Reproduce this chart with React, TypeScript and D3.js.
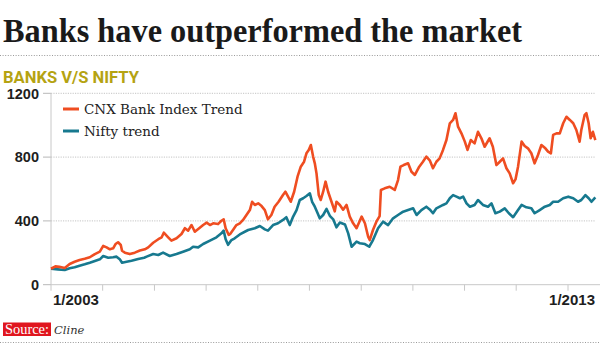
import React from "react";
import * as d3 from "d3";

// Values (index, Jan 2003 = 100)
const bankSeries: [string, number][] = [
  ["2003-01-01", 100], ["2003-02-01", 115], ["2003-03-01", 112], ["2003-04-08", 105],
  ["2003-05-13", 130], ["2003-06-17", 144], ["2003-07-22", 155], ["2003-08-27", 163],
  ["2003-10-02", 172], ["2003-11-07", 192], ["2003-12-12", 207], ["2004-01-05", 243],
  ["2004-01-29", 234], ["2004-02-21", 222], ["2004-03-15", 228], ["2004-04-01", 255],
  ["2004-04-19", 266], ["2004-05-08", 249], ["2004-05-17", 213], ["2004-06-06", 201],
  ["2004-07-11", 192], ["2004-08-15", 201], ["2004-09-20", 214], ["2004-10-25", 222],
  ["2004-11-18", 234], ["2004-12-23", 263], ["2005-01-28", 285], ["2005-02-21", 297],
  ["2005-03-08", 326], ["2005-04-08", 297], ["2005-05-01", 276], ["2005-06-06", 291],
  ["2005-07-11", 318], ["2005-08-04", 354], ["2005-08-27", 339], ["2005-09-20", 374],
  ["2005-10-13", 332], ["2005-11-13", 354], ["2005-12-11", 374], ["2006-01-05", 389],
  ["2006-01-28", 374], ["2006-02-20", 385], ["2006-03-26", 380], ["2006-04-19", 401],
  ["2006-05-05", 410], ["2006-05-19", 354], ["2006-06-10", 312], ["2006-06-20", 318],
  ["2006-07-10", 343], ["2006-08-03", 374], ["2006-08-27", 385], ["2006-09-19", 406],
  ["2006-10-13", 437], ["2006-11-06", 468], ["2006-11-22", 520], ["2006-12-11", 500],
  ["2007-01-04", 510], ["2007-01-28", 493], ["2007-02-20", 468], ["2007-03-14", 410],
  ["2007-04-07", 437], ["2007-04-30", 489], ["2007-05-28", 520], ["2007-06-28", 562],
  ["2007-07-15", 583], ["2007-08-03", 552], ["2007-08-22", 520], ["2007-09-15", 583],
  ["2007-10-09", 677], ["2007-11-01", 740], ["2007-11-24", 771], ["2007-12-11", 824],
  ["2007-12-27", 845], ["2008-01-11", 876], ["2008-01-27", 803], ["2008-02-08", 761],
  ["2008-02-20", 698], ["2008-03-07", 562], ["2008-03-21", 531], ["2008-04-07", 583],
  ["2008-04-24", 646], ["2008-05-12", 583], ["2008-06-05", 520], ["2008-06-28", 460],
  ["2008-07-10", 520], ["2008-08-03", 500], ["2008-08-26", 470], ["2008-09-19", 500],
  ["2008-10-12", 427], ["2008-11-05", 385], ["2008-11-29", 354], ["2009-01-04", 427],
  ["2009-01-27", 385], ["2009-02-19", 301], ["2009-03-02", 280], ["2009-03-25", 343],
  ["2009-04-18", 395], ["2009-05-11", 430], ["2009-05-20", 594], ["2009-06-16", 604],
  ["2009-07-21", 614], ["2009-08-26", 594], ["2009-09-18", 656], ["2009-10-05", 740],
  ["2009-10-28", 750], ["2009-11-28", 761], ["2009-12-22", 708], ["2010-01-15", 688],
  ["2010-02-15", 740], ["2010-03-13", 771], ["2010-04-06", 803], ["2010-04-30", 780],
  ["2010-05-23", 730], ["2010-06-16", 771], ["2010-07-09", 792], ["2010-08-02", 845],
  ["2010-08-26", 907], ["2010-09-19", 1012], ["2010-10-12", 1033], ["2010-10-29", 1075],
  ["2010-11-16", 991], ["2010-12-10", 949], ["2011-01-03", 897], ["2011-01-22", 845],
  ["2011-02-14", 907], ["2011-03-13", 886], ["2011-04-06", 959], ["2011-04-30", 918],
  ["2011-05-23", 865], ["2011-06-27", 918], ["2011-07-20", 865], ["2011-08-14", 750],
  ["2011-09-07", 771], ["2011-09-30", 792], ["2011-10-24", 730], ["2011-11-16", 698],
  ["2011-12-10", 636], ["2011-12-27", 660], ["2012-01-14", 740], ["2012-02-08", 897],
  ["2012-03-01", 870], ["2012-03-24", 855], ["2012-04-17", 824], ["2012-05-10", 761],
  ["2012-06-03", 813], ["2012-06-27", 876], ["2012-07-25", 855], ["2012-08-13", 834],
  ["2012-09-02", 824], ["2012-09-18", 939], ["2012-10-12", 949], ["2012-11-04", 949],
  ["2012-11-28", 1012], ["2012-12-21", 1053], ["2013-01-14", 1033], ["2013-02-07", 1012],
  ["2013-03-01", 970], ["2013-03-24", 897], ["2013-04-05", 970], ["2013-04-29", 1065],
  ["2013-05-11", 1075], ["2013-05-27", 1012], ["2013-06-10", 918], ["2013-06-26", 959],
  ["2013-07-13", 907],
];

const niftySeries: [string, number][] = [
  ["2003-01-01", 100], ["2003-02-19", 96], ["2003-04-08", 92], ["2003-05-13", 103],
  ["2003-06-17", 109], ["2003-07-22", 119], ["2003-08-27", 128], ["2003-10-02", 138],
  ["2003-11-07", 149], ["2003-12-12", 159], ["2004-01-05", 180], ["2004-02-09", 169],
  ["2004-03-15", 172], ["2004-04-08", 176], ["2004-05-01", 159], ["2004-05-17", 138],
  ["2004-06-18", 144], ["2004-07-23", 150], ["2004-09-08", 161], ["2004-10-20", 169],
  ["2004-11-07", 176], ["2004-12-23", 192], ["2005-01-28", 186], ["2005-03-03", 201],
  ["2005-04-19", 180], ["2005-06-06", 192], ["2005-07-22", 207], ["2005-09-08", 222],
  ["2005-10-01", 238], ["2005-11-06", 234], ["2005-12-11", 255], ["2006-01-28", 276],
  ["2006-03-15", 297], ["2006-04-19", 322], ["2006-05-05", 339], ["2006-05-19", 285],
  ["2006-06-05", 250], ["2006-06-29", 280], ["2006-07-22", 291], ["2006-08-27", 315],
  ["2006-10-25", 343], ["2006-12-11", 354], ["2007-01-16", 368], ["2007-02-20", 347],
  ["2007-03-14", 339], ["2007-04-19", 374], ["2007-05-24", 385], ["2007-06-28", 406],
  ["2007-07-22", 423], ["2007-08-15", 374], ["2007-09-08", 427], ["2007-10-02", 468],
  ["2007-10-25", 531], ["2007-11-18", 542], ["2007-12-11", 556], ["2008-01-04", 573],
  ["2008-01-20", 520], ["2008-02-08", 489], ["2008-02-28", 448], ["2008-03-14", 416],
  ["2008-04-07", 437], ["2008-05-01", 475], ["2008-05-24", 432], ["2008-06-17", 410],
  ["2008-07-10", 360], ["2008-08-03", 390], ["2008-09-08", 378], ["2008-10-01", 322],
  ["2008-10-25", 238], ["2008-11-29", 270], ["2008-12-22", 260], ["2009-01-27", 255],
  ["2009-02-27", 238], ["2009-03-25", 280], ["2009-04-30", 354], ["2009-06-04", 395],
  ["2009-07-10", 374], ["2009-08-14", 416], ["2009-09-18", 437], ["2009-10-24", 458],
  ["2009-11-28", 468], ["2010-01-03", 479], ["2010-01-27", 437], ["2010-03-02", 468],
  ["2010-04-06", 489], ["2010-04-30", 472], ["2010-05-23", 448], ["2010-06-16", 479],
  ["2010-08-02", 500], ["2010-08-26", 510], ["2010-09-19", 542], ["2010-10-12", 562],
  ["2010-11-05", 552], ["2010-11-29", 542], ["2010-12-22", 552], ["2011-01-15", 510],
  ["2011-02-08", 489], ["2011-03-13", 500], ["2011-04-06", 531], ["2011-05-11", 500],
  ["2011-06-16", 489], ["2011-07-10", 510], ["2011-08-07", 448], ["2011-09-07", 458],
  ["2011-10-12", 479], ["2011-11-10", 448], ["2011-12-10", 423], ["2012-01-14", 468],
  ["2012-02-08", 500], ["2012-03-13", 485], ["2012-04-17", 479], ["2012-05-10", 448],
  ["2012-06-15", 468], ["2012-07-21", 489], ["2012-08-25", 500], ["2012-09-18", 520],
  ["2012-10-23", 520], ["2012-11-28", 542], ["2013-01-03", 552], ["2013-02-07", 542],
  ["2013-03-13", 520], ["2013-04-05", 531], ["2013-05-04", 562], ["2013-05-27", 542],
  ["2013-06-16", 520], ["2013-07-13", 548],
];

const yTicks = [0, 400, 800, 1200];
const xTickYears = d3.range(2003, 2014);
const xLabels: [number, string][] = [[2003, "1/2003"], [2013, "1/2013"]];
const legendItems = ["CNX Bank Index Trend", "Nifty trend"];

const BANK_COLOR = "#ef4d21";
const NIFTY_COLOR = "#17798f";
const W = 600;
const H = 351;

const parse = d3.timeParse("%Y-%m-%d");

export default function App() {
  const x = d3.scaleTime()
    .domain([new Date(2003, 0, 1), new Date(2013, 0, 1)])
    .range([51, 568]);
  const y = d3.scaleLinear().domain([0, 1200]).range([284.7, 93.3]);

  const line = d3.line<[string, number]>()
    .x(d => x(parse(d[0]) as Date))
    .y(d => y(d[1]));

  const sansBold = "'Liberation Sans', Arial, sans-serif";
  const serif = "'DejaVu Serif', Georgia, serif";

  return (
    <svg width={W} height={H} style={{ position: "absolute", left: 0, top: 0, background: "#fff" }}>
      {/* header */}
      <text x={3} y={42} fontFamily="'Liberation Serif', 'Times New Roman', serif" fontWeight="bold"
        fontSize={34} fill="#1a1a1a" textLength={519} lengthAdjust="spacingAndGlyphs">
        Banks have outperformed the market
      </text>
      <line x1={0} x2={W} y1={55.5} y2={55.5} stroke="#9a9a9a" strokeDasharray="1 1.6" />
      <text x={3} y={82.5} fontFamily="Roboto, sans-serif" fontWeight="bold" fontSize={16.5}
        fill="#b5a312" textLength={136} lengthAdjust="spacingAndGlyphs">
        BANKS V/S NIFTY
      </text>

      {/* grid + y axis */}
      {yTicks.map(t => (
        <g key={t}>
          {t > 0 && (
            <line x1={51} x2={595} y1={y(t)} y2={y(t)} stroke="#c4c4c4" strokeDasharray="1.2 1.2" />
          )}
          <line x1={43} x2={51} y1={y(t)} y2={y(t)} stroke="#b8b8b8" />
          <text x={39} y={y(t)} dy="0.37em" textAnchor="end" fontFamily={sansBold}
            fontWeight="bold" fontSize={14.5} fill="#1e1e1e">{t}</text>
        </g>
      ))}
      <line x1={51} x2={51} y1={y(1200)} y2={y(0)} stroke="#c8c8c8" />
      <line x1={51} x2={W} y1={y(0)} y2={y(0)} stroke="#c8c8c8" />

      {/* x axis */}
      {xTickYears.map(yr => (
        <line key={yr} x1={x(new Date(yr, 0, 1))} x2={x(new Date(yr, 0, 1))}
          y1={y(0)} y2={y(0) + 6} stroke="#c8c8c8" />
      ))}
      {xLabels.map(([yr, label], i) => (
        <text key={label} x={i === 0 ? x(new Date(yr, 0, 1)) + 2 : 595} y={305}
          textAnchor={i === 0 ? "start" : "end"} fontFamily={sansBold} fontWeight="bold"
          fontSize={15} fill="#1e1e1e">{label}</text>
      ))}

      {/* series */}
      <path d={line(niftySeries) || ""} fill="none" stroke={NIFTY_COLOR} strokeWidth={2.6}
        strokeLinejoin="round" />
      <path d={line(bankSeries) || ""} fill="none" stroke={BANK_COLOR} strokeWidth={2.6}
        strokeLinejoin="round" />

      {/* legend */}
      {legendItems.map((label, i) => (
        <g key={label} transform={`translate(63,${109 + i * 22})`}>
          <line x1={0} x2={16} y1={0} y2={0} stroke={i === 0 ? BANK_COLOR : NIFTY_COLOR} strokeWidth={3} />
          <text x={21} y={0} dy="0.34em" fontFamily={serif} fontSize={13.5} fill="#222">{label}</text>
        </g>
      ))}

      {/* source */}
      <rect x={3} y={322.5} width={48} height={13.5} fill="#e0161f" />
      <text x={5} y={334} fontFamily="'Liberation Serif', serif" fontSize={14.5} fill="#fff"
        textLength={44} lengthAdjust="spacingAndGlyphs">Source:</text>
      <text x={54} y={334} fontFamily="'DejaVu Serif', serif" fontStyle="italic" fontSize={11.5}
        fill="#333">Cline</text>
      <line x1={0} x2={W} y1={342.5} y2={342.5} stroke="#9a9a9a" strokeDasharray="1 1.6" />
    </svg>
  );
}
